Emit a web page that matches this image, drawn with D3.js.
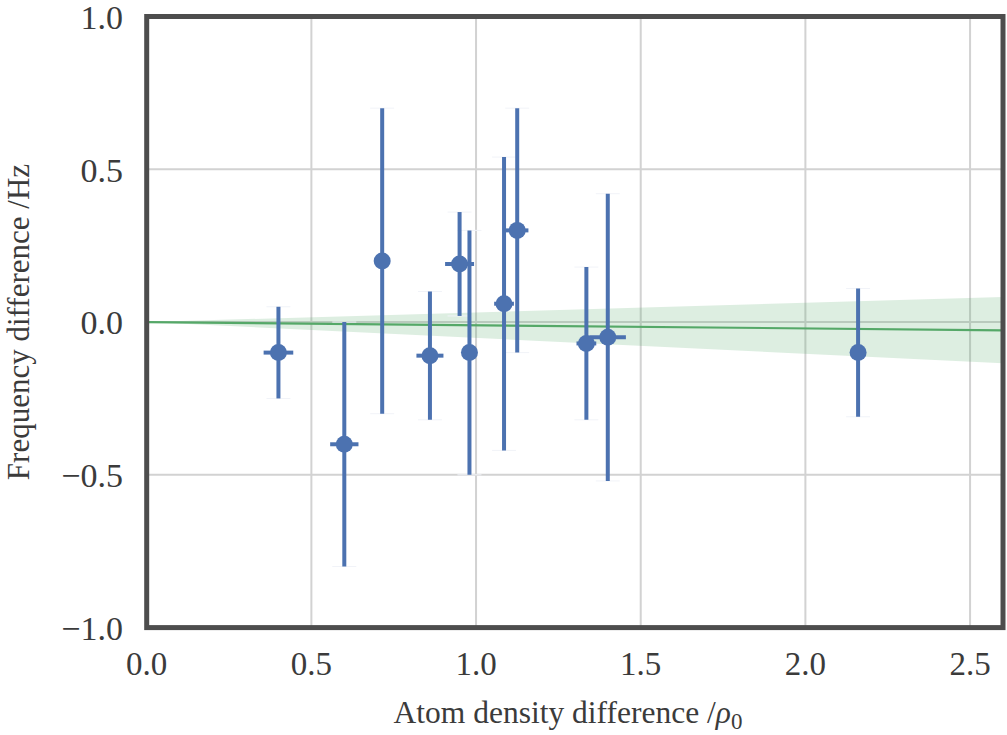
<!DOCTYPE html>
<html>
<head>
<meta charset="utf-8">
<script src="https://cdn.jsdelivr.net/npm/d3@7"></script>
<style>
  html, body { margin: 0; padding: 0; background: #fff; }
  svg { display: block; }
</style>
</head>
<body>
<div id="chart"></div>
<script>
// measured points: atom density difference vs frequency difference
const densityX = [0.40, 0.60, 0.715, 0.86, 0.95, 0.98, 1.085, 1.125, 1.335, 1.40, 2.16];
const freqY    = [-0.10, -0.40, 0.20, -0.11, 0.19, -0.10, 0.06, 0.30, -0.07, -0.05, -0.10];
const errLow   = [0.15, 0.40, 0.50, 0.21, 0.17, 0.40, 0.48, 0.40, 0.25, 0.47, 0.21];
const errHigh  = [0.15, 0.40, 0.50, 0.21, 0.17, 0.40, 0.48, 0.40, 0.25, 0.47, 0.21];
const errX     = [0.045, 0.043, 0, 0.041, 0.044, 0, 0.03, 0.034, 0.03, 0.055, 0];

// linear fit through origin and its confidence band
const fitX    = [0, 2.6];
const fitY    = [0, -0.027];
const bandLow = [0, -0.135];
const bandHigh = [0, 0.082];

const xTicks = [0, 0.5, 1.0, 1.5, 2.0, 2.5];
const yTicks = [-1.0, -0.5, 0.0, 0.5, 1.0];

const width = 1007, height = 735;
const blue = "#4c72b0", green = "#55a868";
const font = "'Liberation Serif', 'Times New Roman', serif";

const x = d3.scaleLinear().domain([0, 2.6]).range([146.7, 1003]);
const y = d3.scaleLinear().domain([-1, 1]).range([627.6, 16.5]);

const svg = d3.select("#chart").append("svg")
    .attr("width", width)
    .attr("height", height)
    .attr("font-family", font);

// grid
svg.append("g")
    .selectAll("line")
    .data(xTicks)
    .join("line")
    .attr("x1", d => x(d)).attr("x2", d => x(d))
    .attr("y1", y(-1)).attr("y2", y(1))
    .attr("stroke", "#d2d2d2")
    .attr("stroke-width", 2);

svg.append("g")
    .selectAll("line")
    .data(yTicks)
    .join("line")
    .attr("x1", x(0)).attr("x2", x(2.6))
    .attr("y1", d => y(d)).attr("y2", d => y(d))
    .attr("stroke", "#d2d2d2")
    .attr("stroke-width", 2);

// confidence band + fit line
const band = fitX.map((v, i) => ({ x: v, lo: bandLow[i], hi: bandHigh[i] }));
svg.append("path")
    .datum(band)
    .attr("fill", green)
    .attr("fill-opacity", 0.2)
    .attr("d", d3.area().x(d => x(d.x)).y0(d => y(d.lo)).y1(d => y(d.hi)));

svg.append("path")
    .datum(fitX.map((v, i) => [v, fitY[i]]))
    .attr("fill", "none")
    .attr("stroke", green)
    .attr("stroke-width", 2.2)
    .attr("d", d3.line().x(d => x(d[0])).y(d => y(d[1])));

// error bars
const pts = densityX.map((v, i) => ({
    x: v, y: freqY[i], lo: freqY[i] - errLow[i], hi: freqY[i] + errHigh[i], ex: errX[i]
}));

const pg = svg.append("g");

// faint caps
pg.selectAll("line.cap")
    .data(pts.flatMap(d => [d.lo, d.hi].map(v => ({ x: d.x, v }))))
    .join("line")
    .attr("class", "cap")
    .attr("x1", d => x(d.x) - 12).attr("x2", d => x(d.x) + 12)
    .attr("y1", d => y(d.v)).attr("y2", d => y(d.v))
    .attr("stroke", "#f1f3f8")
    .attr("stroke-width", 1);

pg.selectAll("line.ybar")
    .data(pts)
    .join("line")
    .attr("class", "ybar")
    .attr("x1", d => x(d.x)).attr("x2", d => x(d.x))
    .attr("y1", d => y(d.lo)).attr("y2", d => y(d.hi))
    .attr("stroke", blue)
    .attr("stroke-width", 4);

pg.selectAll("line.xbar")
    .data(pts.filter(d => d.ex > 0))
    .join("line")
    .attr("class", "xbar")
    .attr("x1", d => x(d.x - d.ex)).attr("x2", d => x(d.x + d.ex))
    .attr("y1", d => y(d.y)).attr("y2", d => y(d.y))
    .attr("stroke", blue)
    .attr("stroke-width", 4);

pg.selectAll("circle")
    .data(pts)
    .join("circle")
    .attr("cx", d => x(d.x))
    .attr("cy", d => y(d.y))
    .attr("r", 8.5)
    .attr("fill", blue);

// frame
svg.append("rect")
    .attr("x", x(0))
    .attr("y", y(1))
    .attr("width", x(2.6) - x(0))
    .attr("height", y(-1) - y(1))
    .attr("fill", "none")
    .attr("stroke", "#4d4d4d")
    .attr("stroke-width", 5);

// tick labels
const fmt = d => d3.format(".1f")(d).replace("-", "\u2212");

svg.append("g")
    .selectAll("text")
    .data(xTicks)
    .join("text")
    .attr("x", d => x(d))
    .attr("y", 675)
    .attr("text-anchor", "middle")
    .attr("font-size", 33)
    .attr("fill", "#3b3b3b")
    .text(fmt);

svg.append("g")
    .selectAll("text")
    .data(yTicks)
    .join("text")
    .attr("x", 123)
    .attr("y", d => y(d))
    .attr("dy", "0.36em")
    .attr("text-anchor", "end")
    .attr("font-size", 34)
    .attr("fill", "#3b3b3b")
    .text(fmt);

// axis titles
const xt = svg.append("text")
    .attr("x", 568)
    .attr("y", 723)
    .attr("text-anchor", "middle")
    .attr("font-size", 31.5)
    .attr("fill", "#3b3b3b");
xt.append("tspan").text("Atom density difference /");
xt.append("tspan").attr("font-style", "italic").text("\u03c1");
xt.append("tspan").attr("font-size", 23).attr("dy", 6).text("0");

svg.append("text")
    .attr("transform", `translate(29,${(y(1) + y(-1)) / 2}) rotate(-90)`)
    .attr("text-anchor", "middle")
    .attr("font-size", 31)
    .attr("fill", "#3b3b3b")
    .text("Frequency difference /Hz");
</script>
</body>
</html>
